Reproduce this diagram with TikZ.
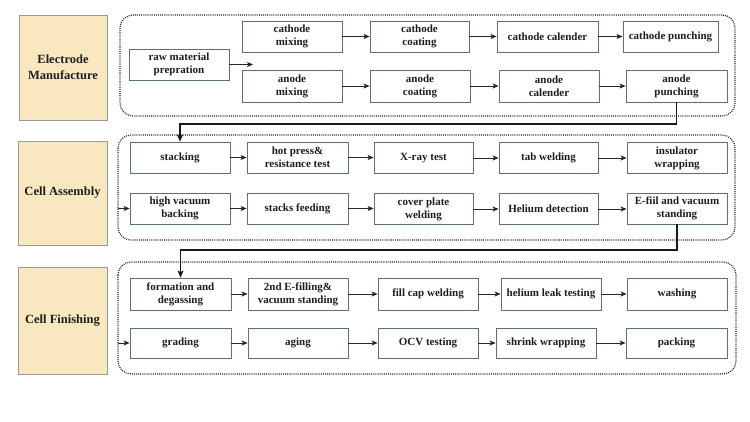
\documentclass[tikz,border=0pt]{standalone}
\usepackage{fontspec}
\setmainfont{Liberation Serif}
\usetikzlibrary{arrows.meta}
\definecolor{boxline}{HTML}{5E6E7A}
\definecolor{labfill}{HTML}{F9E7C0}
\definecolor{labline}{HTML}{9C9A94}
\definecolor{txt}{HTML}{1E1E1E}
\tikzset{
  pbox/.style={draw=boxline, line width=0.8pt, fill=white, minimum height=31pt, minimum width=100pt,
    inner sep=1pt, align=center, text=txt, font=\bfseries\fontsize{11}{13}\selectfont},
  lab/.style={draw=labline, line width=0.8pt, fill=labfill, inner sep=0pt, align=center, text=txt,
    font=\bfseries\fontsize{12.5}{16}\selectfont},
  cont/.style={draw=black!85, line width=1.2pt, dash pattern=on 1pt off 1.1pt, rounded corners=13pt},
  flow/.style={draw=black!85, line width=0.8pt, -{Stealth[length=6pt,width=5pt,inset=1.5pt]}},
  link/.style={draw=black!90, line width=1.1pt, -{Stealth[length=7pt,width=6pt,inset=1.5pt]}}
}
\begin{document}
\begin{tikzpicture}[x=1pt,y=-1pt]
\useasboundingbox (0,0) rectangle (750,421);
\fill[white] (0,0) rectangle (750,421);

% containers
\draw[cont] (120,15) rectangle (735,116);
\draw[cont] (118,135) rectangle (735,240);
\draw[cont] (118,262) rectangle (736,374);
\coordinate (ca) at (118,208.5);
\coordinate (cf) at (118,343);

% left labels
\node[lab, minimum width=88pt, minimum height=105pt] (l1) at (63,67.5) {Electrode\\Manufacture};
\node[lab, minimum width=89pt, minimum height=104pt] (l2) at (62.5,193) {Cell Assembly};
\node[lab, minimum width=89pt, minimum height=107pt] (l3) at (62.5,320.5) {Cell Finishing};

% Electrode manufacture
\node[pbox] (raw) at (179,64.5) {raw material\\prepration};
\node[pbox] (cmix) at (292,36.5) {cathode\\mixing};
\node[pbox, minimum height=32pt] (amix) at (292,86) {anode\\mixing};
\node[pbox, minimum width=99pt] (ccoat) at (419.5,36.5) {cathode\\coating};
\node[pbox, minimum width=101pt] (ccal) at (547.5,36.5) {cathode calender};
\node[pbox, minimum width=95pt] (cpun) at (670.5,36.5) {cathode punching};
\node[pbox, minimum height=32pt] (acoat) at (420,86) {anode\\coating};
\node[pbox, minimum height=32pt] (acal) at (549,86) {anode\\calender};
\node[pbox, minimum width=101pt, minimum height=32pt] (apun) at (676.5,86) {anode\\punching};
\coordinate (rawend) at (253,64.5);

\draw[flow] (raw.east) -- (rawend);
\draw[flow] (cmix.east) -- (cmix.east -| ccoat.west);
\draw[flow] (ccoat.east) -- (ccoat.east -| ccal.west);
\draw[flow] (ccal.east) -- (ccal.east -| cpun.west);
\draw[flow] (amix.east) -- (amix.east -| acoat.west);
\draw[flow] (acoat.east) -- (acoat.east -| acal.west);
\draw[flow] (acal.east) -- (acal.east -| apun.west);

% Cell assembly
\node[pbox] (stk) at (180,157.5) {stacking};
\node[pbox, minimum width=101pt] (hot) at (297.5,157.5) {hot press\&\\resistance test};
\node[pbox, minimum width=99pt] (xray) at (423.5,158) {X-ray test};
\node[pbox, minimum width=99pt] (tab) at (548.5,158) {tab welding};
\node[pbox] (ins) at (677,158) {insulator\\wrapping};
\node[pbox] (hvb) at (180,208.5) {high vacuum\\backing};
\node[pbox, minimum width=101pt] (sf) at (297.5,208.5) {stacks feeding};
\node[pbox, minimum width=99pt] (cpw) at (423.5,209) {cover plate\\welding};
\node[pbox, minimum width=99pt] (he) at (548.5,209) {Helium detection};
\node[pbox] (ef) at (677,208.5) {E-fiil and vacuum\\standing};

\draw[flow] (stk.east) -- (stk.east -| hot.west);
\draw[flow] (hot.east) -- (hot.east -| xray.west);
\draw[flow] (xray.east) -- (xray.east -| tab.west);
\draw[flow] (tab.east) -- (tab.east -| ins.west);
\draw[flow] (ca) -- (hvb.west);
\draw[flow] (hvb.east) -- (hvb.east -| sf.west);
\draw[flow] (sf.east) -- (sf.east -| cpw.west);
\draw[flow] (cpw.east) -- (cpw.east -| he.west);
\draw[flow] (he.east) -- (he.east -| ef.west);

% Cell finishing
\node[pbox, minimum width=101pt, minimum height=32pt] (form) at (180.5,294) {formation and\\degassing};
\node[pbox, minimum height=32pt] (e2) at (298,294) {2nd E-filling\&\\vacuum standing};
\node[pbox, minimum height=32pt] (fcw) at (428,294) {fill cap welding};
\node[pbox, minimum height=32pt] (hlt) at (551,294) {helium leak testing};
\node[pbox, minimum height=32pt] (wash) at (677,294) {washing};
\node[pbox, minimum width=101pt, minimum height=30pt] (grad) at (180.5,343) {grading};
\node[pbox, minimum height=30pt] (aging) at (298,343) {aging};
\node[pbox, minimum height=30pt] (ocv) at (428,343) {OCV testing};
\node[pbox, minimum height=30pt] (shr) at (546,343) {shrink wrapping};
\node[pbox, minimum width=101pt, minimum height=30pt] (pack) at (676.5,343) {packing};

\draw[flow] (form.east) -- (form.east -| e2.west);
\draw[flow] (e2.east) -- (e2.east -| fcw.west);
\draw[flow] (fcw.east) -- (fcw.east -| hlt.west);
\draw[flow] (hlt.east) -- (hlt.east -| wash.west);
\draw[flow] (cf) -- (grad.west);
\draw[flow] (grad.east) -- (grad.east -| aging.west);
\draw[flow] (aging.east) -- (aging.east -| ocv.west);
\draw[flow] (ocv.east) -- (ocv.east -| shr.west);
\draw[flow] (shr.east) -- (shr.east -| pack.west);

% links between stages
\coordinate (j1) at (180,124);
\coordinate (j2) at (180.5,250);
\draw[link] (apun.south) |- (j1) -- (stk.north);
\draw[link] (ef.south) |- (j2) -- (form.north);
\end{tikzpicture}
\end{document}
